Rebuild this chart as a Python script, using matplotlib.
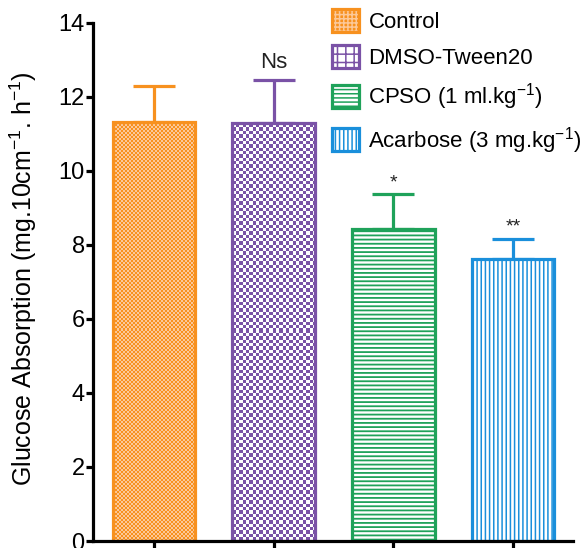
import matplotlib
matplotlib.use("Agg")
import matplotlib.pyplot as plt
import numpy as np
from matplotlib.colors import ListedColormap

plt.rcParams['font.family'] = ['Liberation Sans', 'DejaVu Sans']
plt.rcParams['mathtext.fontset'] = 'custom'
plt.rcParams['mathtext.rm'] = 'Liberation Sans'
plt.rcParams['mathtext.it'] = 'Liberation Sans:italic'
plt.rcParams['mathtext.bf'] = 'Liberation Sans:bold'

# ---- data ----
groups = ["Control", "DMSO-Tween20", "CPSO (1 ml.kg$^{-1}$)", "Acarbose (3 mg.kg$^{-1}$)"]
means = [11.32, 11.30, 8.44, 7.63]
errors = [0.96, 1.15, 0.92, 0.53]
signif = ["", "Ns", "*", "**"]
yticks = [0, 2, 4, 6, 8, 10, 12, 14]
ylabel = "Glucose Absorption (mg.10cm$^{-1}$. h$^{-1}$)"

colors = ["#F7911F", "#7A52A6", "#1FA25A", "#1A8FDB"]
# pattern styles: ('checker', cell_px, light colour) or ('hatch', hatch, lw)
patterns = [("checker", 2.0, "#FCC898"),
            ("checker", 3.35, "#FFFFFF"),
            ("hatch", "----", 1.3),
            ("hatch", "||||", 1.1)]

W, H, DPI = 584, 548, 100
fig = plt.figure(figsize=(W/DPI, H/DPI), dpi=DPI)
ax_l, ax_r, ax_b, ax_t = 93, 573, 541, 22.7
ax = fig.add_axes([ax_l/W, 1-ax_b/H, (ax_r-ax_l)/W, (ax_b-ax_t)/H])

x = np.arange(len(groups))
width = 0.69
lw = 2.3
xlim = (-0.51, 3.5)
ylim = (0, 14)
ax.set_xlim(*xlim)
ax.set_ylim(*ylim)
px_per_x = (ax_r-ax_l)/(xlim[1]-xlim[0])
px_per_y = (ax_b-ax_t)/(ylim[1]-ylim[0])

handles = []
for i in range(len(groups)):
    kind = patterns[i][0]
    if kind == "checker":
        cell, light = patterns[i][1], patterns[i][2]
        fb = ax.bar(x[i], means[i], width=width, color=light, linewidth=0, zorder=2)
        rect = fb.patches[0]
        nx = int(round(width*px_per_x))
        ny = int(round(means[i]*px_per_y))
        ix = np.floor(np.arange(nx)/cell).astype(int)
        iy = np.floor(np.arange(ny)/cell).astype(int)
        board = (np.add.outer(iy, ix) % 2).astype(float)
        cmap = ListedColormap([colors[i], light])
        im = ax.imshow(board, cmap=cmap, vmin=0, vmax=1,
                       extent=(x[i]-width/2, x[i]+width/2, 0, means[i]),
                       aspect='auto', interpolation='none', origin='lower', zorder=2.5)
        im.set_clip_path(rect)
        # legend patch
        plt.rcParams['hatch.linewidth'] = 1.6 if i == 1 else 0.8
        hp = plt.Rectangle((0, 0), 1, 1, facecolor=colors[i] if i == 0 else light,
                           edgecolor=light if i == 0 else colors[i],
                           hatch="++++" if i == 0 else "++", linewidth=0)
    else:
        hatch, hlw = patterns[i][1], patterns[i][2]
        plt.rcParams['hatch.linewidth'] = hlw
        fb = ax.bar(x[i], means[i], width=width, color="white", edgecolor=colors[i],
                    hatch=hatch, linewidth=0, zorder=2)
        hp = fb.patches[0]
    eb = ax.bar(x[i], means[i], width=width, facecolor='none', edgecolor=colors[i],
                linewidth=lw, zorder=3)
    ax.errorbar(x[i], means[i], yerr=[[0], [errors[i]]], fmt='none', ecolor=colors[i],
                elinewidth=lw, capsize=15, capthick=lw, zorder=1)
    if signif[i]:
        fs = 16 if signif[i] == "Ns" else 14
        off = 0.48 if signif[i] == "Ns" else 0.32
        ax.text(x[i], means[i] + errors[i] + off, signif[i], ha='center', va='center',
                fontsize=fs, color='#222222', zorder=4)
    handles.append((hp, eb.patches[0]))

ax.set_xlim(*xlim)
ax.set_ylim(*ylim)
ax.set_yticks(yticks)
ax.set_xticks(x)
ax.set_xticklabels([])
for s in ['top', 'right']:
    ax.spines[s].set_visible(False)
for s in ['left', 'bottom']:
    ax.spines[s].set_linewidth(2.3)
    ax.spines[s].set_color('black')
    ax.spines[s].set_zorder(5)
ax.tick_params(axis='y', direction='out', length=5, width=2.3, labelsize=17, pad=1)
ax.tick_params(axis='x', direction='out', length=8, width=2.3)
ax.set_ylabel(ylabel, fontsize=18)
ax.yaxis.set_label_coords(-0.1125, 0.506)

ax.legend(handles, groups, loc='upper left', bbox_to_anchor=(332/W, 1-9/H),
          bbox_transform=fig.transFigure, frameon=False, fontsize=16,
          handlelength=1.22, handleheight=1.22, handletextpad=0.42,
          labelspacing=0.55, borderpad=0, borderaxespad=0)

fig.savefig("out.png", dpi=DPI)
